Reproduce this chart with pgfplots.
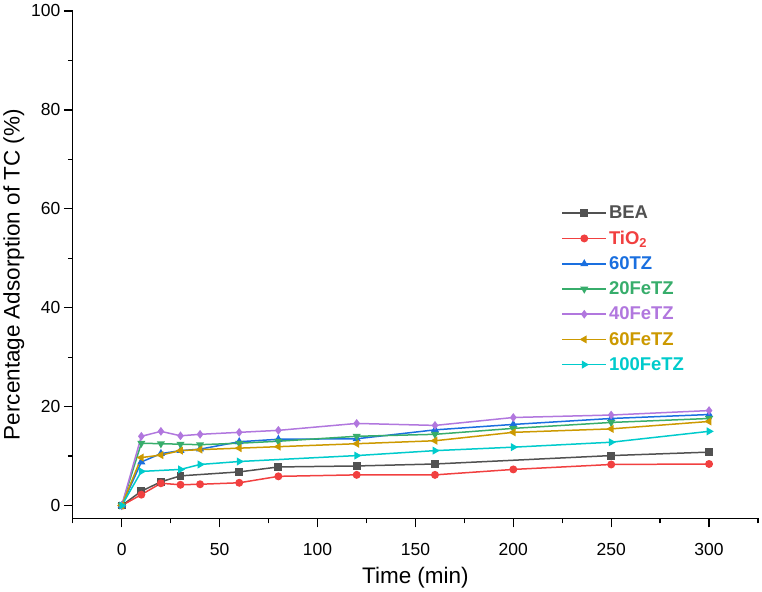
\documentclass[border=0pt]{standalone}
\usepackage{pgfplots}
\pgfplotsset{compat=1.18}
\usepackage{fontspec}
\setmainfont{Liberation Sans}
\definecolor{cBEA}{HTML}{515151}
\definecolor{cTi}{HTML}{F14040}
\definecolor{cTZ}{HTML}{1A6FDF}
\definecolor{cTwenty}{HTML}{37AD6B}
\definecolor{cForty}{HTML}{B177DE}
\definecolor{cSixty}{HTML}{CC9900}
\definecolor{cHundred}{HTML}{00CBCC}
\begin{document}
\begin{tikzpicture}
\begin{axis}[
  name=ax,
  scale only axis,
  width=686pt, height=508pt,
  xmin=-25, xmax=325, ymin=-2.6, ymax=100,
  axis x line*=bottom, axis y line*=left,
  axis line style={line width=1.3pt, -},
  xtick={0,50,...,300}, minor xtick={-25,25,...,325},
  ytick={0,20,...,100}, minor ytick={10,30,...,90},
  tick align=outside,
  major tick length=9pt, minor tick length=5pt,
  tick style={line width=1.3pt, black},
  /pgf/number format/assume math mode=true,
  ticklabel style={font=\fontsize{17.5}{20}\selectfont},
  xticklabel style={yshift=-12pt},
  xlabel={Time (min)},
  ylabel={Percentage Adsorption of TC (\%)},
  label style={font=\fontsize{22.5}{26}\selectfont},
  xlabel style={yshift=-5pt},
  ylabel style={xshift=-10pt},
  clip=false,
  every axis plot/.append style={line width=1.5pt, mark size=3.2pt},
  legend style={draw=none, fill=none, at={(rel axis cs:0.713,0.62)}, anchor=north west,
    font=\fontsize{18.5}{21}\selectfont\bfseries, row sep=6.8pt, inner sep=0pt},
  legend cell align=left,
  legend image code/.code={\draw[mark repeat=2,mark phase=2] plot coordinates {(0pt,0pt) (22pt,0pt) (44pt,0pt)};},
]
\addplot[cBEA, mark=square*] coordinates {(0,0)(10,2.9)(20,4.8)(30,6.0)(60,6.8)(80,7.8)(120,8.0)(160,8.4)(250,10.1)(300,10.8)};
\addlegendentry{\textcolor{cBEA}{BEA}}
\addplot[cTi, mark=*] coordinates {(0,0)(10,2.2)(20,4.5)(30,4.2)(40,4.3)(60,4.6)(80,5.9)(120,6.2)(160,6.2)(200,7.3)(250,8.3)(300,8.4)};
\addlegendentry{\textcolor{cTi}{TiO\textsubscript{2}}}
\addplot[cTZ, mark=triangle*] coordinates {(0,0)(10,8.8)(20,10.5)(30,11.1)(40,11.4)(60,12.9)(80,13.4)(120,13.5)(160,15.3)(200,16.4)(250,17.6)(300,18.4)};
\addlegendentry{\textcolor{cTZ}{60TZ}}
\addplot[cTwenty, mark=triangle*, mark options={rotate=180}] coordinates {(0,0)(10,12.6)(20,12.5)(30,12.4)(40,12.3)(60,12.6)(80,13.0)(120,14.0)(160,14.4)(200,15.6)(250,16.8)(300,17.6)};
\addlegendentry{\textcolor{cTwenty}{20FeTZ}}
\addplot[cForty, mark=diamond*] coordinates {(0,0)(10,14.0)(20,15.0)(30,14.1)(40,14.4)(60,14.8)(80,15.2)(120,16.6)(160,16.2)(200,17.8)(250,18.3)(300,19.2)};
\addlegendentry{\textcolor{cForty}{40FeTZ}}
\addplot[cSixty, mark=triangle*, mark options={rotate=90}] coordinates {(0,0)(10,9.7)(20,10.2)(30,11.1)(40,11.3)(60,11.6)(80,11.9)(120,12.5)(160,13.1)(200,14.8)(250,15.5)(300,17.0)};
\addlegendentry{\textcolor{cSixty}{60FeTZ}}
\addplot[cHundred, mark=triangle*, mark options={rotate=-90}] coordinates {(0,0)(10,6.9)(30,7.3)(40,8.3)(60,8.9)(120,10.1)(160,11.1)(200,11.8)(250,12.8)(300,15.0)};
\addlegendentry{\textcolor{cHundred}{100FeTZ}}
\end{axis}
\path (ax.south west) ++(-72pt,-73pt) rectangle ++(762pt,592pt);
\end{tikzpicture}
\end{document}
